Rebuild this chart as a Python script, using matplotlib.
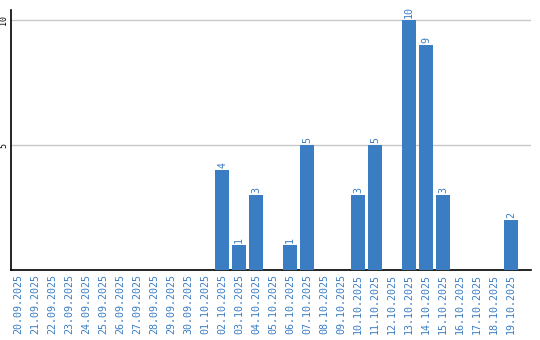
import matplotlib
matplotlib.use("Agg")
import matplotlib.pyplot as plt

# dates 20.09.2025 .. 19.10.2025
dates = ["20.09.2025", "21.09.2025", "22.09.2025", "23.09.2025", "24.09.2025",
         "25.09.2025", "26.09.2025", "27.09.2025", "28.09.2025", "29.09.2025",
         "30.09.2025", "01.10.2025", "02.10.2025", "03.10.2025", "04.10.2025",
         "05.10.2025", "06.10.2025", "07.10.2025", "08.10.2025", "09.10.2025",
         "10.10.2025", "11.10.2025", "12.10.2025", "13.10.2025", "14.10.2025",
         "15.10.2025", "16.10.2025", "17.10.2025", "18.10.2025", "19.10.2025"]
counts = [0, 0, 0, 0, 0, 0, 0, 0, 0, 0,
          0, 0, 4, 1, 3, 0, 1, 5, 0, 0,
          3, 5, 0, 10, 9, 3, 0, 0, 0, 2]
yticks = [5, 10]

blue = "#3b7dc2"
mono = "DejaVu Sans Mono"

fig = plt.figure(figsize=(5.4, 3.4), dpi=100)
ax = fig.add_axes([11/540, 1-270/340, 520/540, 260/340])

x = list(range(len(dates)))
ax.bar(x, counts, width=0.82, color=blue, zorder=3)

for xi, v in zip(x, counts):
    if v > 0:
        ax.text(xi, v + 0.08, str(v), rotation=90, ha="center", va="bottom",
                color=blue, fontsize=7.2, family=mono)

ax.set_xlim(-0.41, 30.16)
ax.set_ylim(0, 10.4)
ax.set_yticks(yticks)
ax.set_yticklabels([str(t) for t in yticks], rotation=90, va="center",
                   fontsize=6, family=mono)
ax.set_xticks(x)
ax.set_xticklabels(dates, rotation=90, color=blue, fontsize=7.2, family=mono)
ax.tick_params(length=0, pad=3)
ax.tick_params(axis="y", pad=2)

ax.grid(axis="y", color="#c8c8c8", linewidth=1, zorder=0)
for s in ["top", "right"]:
    ax.spines[s].set_visible(False)
ax.spines["left"].set_linewidth(1.2)
ax.spines["bottom"].set_linewidth(1.2)

fig.savefig("out.png", dpi=100)
